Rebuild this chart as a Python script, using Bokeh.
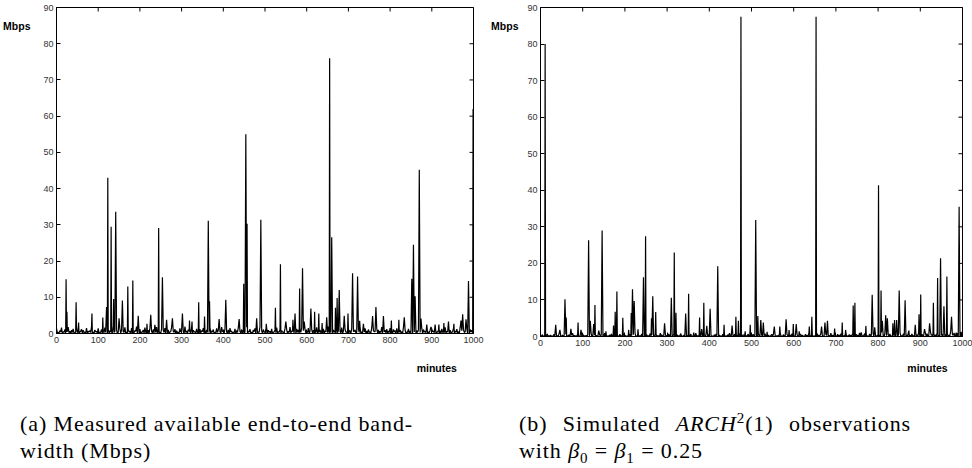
import math
from bokeh.plotting import figure
from bokeh.models import Range1d, FixedTicker, LinearAxis, Div
from bokeh.layouts import row, column
from bokeh.embed import file_html
from bokeh.resources import INLINE

# ---------------- data ----------------
minute_ticks = [0, 100, 200, 300, 400, 500, 600, 700, 800, 900, 1000]
mbps_ticks = [0, 10, 20, 30, 40, 50, 60, 70, 80, 90]

# floor level, panel (a): values at minutes 0, 4, 8, ...
a_floor = [
    1.4, 0.3, 0.8, 1.6, 0.5, 1.1, 0.4, 1.8, 0.6, 0.9,
    1.3, 0.2, 1.7, 0.7, 0.4, 1.2, 0.9, 0.3, 1.5, 0.6,
    0.8, 1.9, 0.4, 1.0, 0.5, 1.4, 0.2, 1.1, 0.7, 1.6,
    0.3, 1.2, 0.8, 0.4, 2.1, 0.6, 1.0, 0.3, 1.3, 0.9,
    0.5, 1.7, 0.4, 1.1, 0.6, 1.5, 0.3, 0.8, 1.9, 0.5,
    1.2, 0.4, 1.0, 1.6, 0.3, 0.9, 1.4, 0.6, 1.1, 0.4,
    1.8, 0.7, 0.3, 1.3, 0.9, 1.5, 0.5, 1.0, 0.4, 1.7,
    0.6, 1.2, 0.8, 0.3, 1.4, 1.0, 0.5, 1.9, 0.7, 1.1,
    0.4, 1.6, 0.9, 0.5, 1.3, 0.3, 1.2, 0.8, 1.5, 0.6,
    1.0, 0.4, 1.7, 0.7, 1.1, 0.3, 1.4, 0.9, 0.5, 1.8,
    0.6, 1.2, 0.4, 1.0, 1.5, 0.7, 0.3, 1.3, 0.8, 1.6,
    0.5, 1.1, 0.9, 0.4, 1.7, 0.6, 1.2, 0.3, 1.0, 1.4,
    0.8, 0.5, 1.9, 0.7, 1.1, 0.4, 1.5, 0.9, 0.6, 1.3,
    0.3, 1.0, 1.6, 0.5, 1.2, 0.8, 0.4, 1.4, 1.1, 0.6,
    1.8, 0.7, 0.9, 0.3, 1.3, 1.0, 0.5, 1.6, 0.8, 1.2,
    0.4, 1.5, 0.6, 1.1, 0.9, 0.3, 1.7, 0.7, 1.0, 0.5,
    1.3, 0.8, 0.4, 1.9, 0.6, 1.2, 1.0, 0.3, 1.4, 0.9,
    0.5, 1.6, 0.7, 1.1, 0.4, 1.3, 0.8, 1.5, 0.6, 1.0,
    0.3, 1.2, 1.7, 0.5, 0.9, 1.4, 0.7, 1.1, 0.4, 1.6,
    0.8, 0.5, 1.3, 1.0, 0.6, 1.8, 0.4, 0.9, 1.2, 0.7,
    1.5, 0.3, 1.1, 0.8, 1.4, 0.6, 1.0, 0.5, 1.7, 0.9,
    0.4, 1.3, 0.7, 1.2, 0.5, 1.6, 0.8, 1.0, 0.3, 1.4,
    1.1, 0.6, 1.9, 0.4, 0.9, 1.2, 0.7, 1.5, 0.5, 1.0,
    0.8, 1.3, 0.4, 1.7, 0.6, 1.1, 0.9, 0.3, 1.4, 0.7,
    1.2, 0.5, 1.6, 0.8, 1.0, 0.4, 1.3, 0.6, 1.1, 0.9,
]
# floor level, panel (a): values at minutes 2, 6, 10, ...
a_floor_mid = [
    0.2, 0.1, 0.4, 0.0, 0.3, 0.1, 0.5, 0.2, 0.0, 0.3,
    0.1, 0.4, 0.2, 0.0, 0.6, 0.1, 0.3, 0.2, 0.0, 0.4,
    0.3, 0.1, 0.0, 0.5, 0.2, 0.1, 0.4, 0.0, 0.2, 0.3,
    0.1, 0.0, 0.4, 0.2, 0.3, 0.1, 0.0, 0.5, 0.2, 0.1,
    0.3, 0.0, 0.2, 0.4, 0.1, 0.0, 0.3, 0.6, 0.1, 0.2,
    0.0, 0.4, 0.1, 0.3, 0.2, 0.0, 0.5, 0.1, 0.2, 0.3,
    0.1, 0.2, 0.0, 0.4, 0.3, 0.1, 0.2, 0.0, 0.5, 0.1,
    0.3, 0.0, 0.2, 0.1, 0.4, 0.2, 0.0, 0.3, 0.1, 0.6,
    0.2, 0.0, 0.4, 0.1, 0.3, 0.0, 0.2, 0.5, 0.1, 0.0,
    0.3, 0.2, 0.1, 0.4, 0.0, 0.2, 0.3, 0.1, 0.0, 0.5,
    0.1, 0.3, 0.2, 0.0, 0.4, 0.1, 0.2, 0.0, 0.3, 0.6,
    0.2, 0.1, 0.0, 0.3, 0.1, 0.4, 0.2, 0.0, 0.5, 0.1,
    0.0, 0.3, 0.2, 0.1, 0.4, 0.0, 0.2, 0.3, 0.1, 0.0,
    0.5, 0.2, 0.1, 0.3, 0.0, 0.4, 0.1, 0.2, 0.0, 0.3,
    0.1, 0.6, 0.2, 0.0, 0.3, 0.1, 0.4, 0.0, 0.2, 0.1,
    0.3, 0.0, 0.5, 0.2, 0.1, 0.4, 0.0, 0.3, 0.2, 0.1,
    0.0, 0.4, 0.2, 0.1, 0.3, 0.0, 0.5, 0.1, 0.2, 0.3,
    0.2, 0.0, 0.1, 0.4, 0.2, 0.3, 0.0, 0.1, 0.6, 0.2,
    0.1, 0.3, 0.0, 0.2, 0.4, 0.1, 0.0, 0.3, 0.2, 0.0,
    0.5, 0.1, 0.2, 0.0, 0.3, 0.1, 0.4, 0.2, 0.0, 0.3,
    0.1, 0.2, 0.4, 0.0, 0.1, 0.3, 0.2, 0.0, 0.5, 0.1,
    0.3, 0.0, 0.2, 0.1, 0.4, 0.0, 0.3, 0.2, 0.1, 0.0,
    0.4, 0.2, 0.0, 0.3, 0.1, 0.5, 0.2, 0.0, 0.3, 0.1,
    0.0, 0.3, 0.2, 0.1, 0.4, 0.0, 0.2, 0.6, 0.1, 0.3,
    0.2, 0.0, 0.4, 0.1, 0.3, 0.2, 0.0, 0.1, 0.4, 0.2,
]

a_spike_minutes = [
    23, 25, 47, 53, 85, 111, 120, 123, 131, 137, 142, 150, 158, 171, 183,
    196, 217, 226, 236, 245, 254, 264, 278, 302, 319, 325, 341, 355, 364,
    367, 390, 406, 438, 449, 454, 457, 480, 490, 503, 525, 537, 550, 567,
    572, 583, 590, 594, 610, 619, 629, 637, 648, 655, 660, 669, 673, 678,
    690, 699, 710, 722, 727, 736, 758, 766, 784, 803, 821, 834, 852, 856,
    860, 870, 874, 888, 898, 908, 917, 929, 940, 953, 970, 974, 982, 988, 999,
]
a_spike_mbps = [
    15.0, 6.0, 8.6, 3.0, 5.5, 4.4, 7.3, 43.0, 29.5, 9.5, 33.6, 4.2, 9.1, 13.0, 14.6,
    4.9, 2.7, 5.2, 2.4, 29.1, 15.5, 3.8, 4.2, 5.5, 3.6, 3.3, 8.6, 4.7, 31.1,
    8.9, 4.0, 9.3, 4.0, 13.7, 55.0, 30.3, 4.2, 31.4, 2.7, 7.1, 19.1, 3.3, 3.8,
    5.5, 12.4, 18.0, 3.3, 6.9, 6.0, 5.5, 2.9, 4.5, 76.0, 26.6, 7.1, 9.8, 12.0,
    4.9, 5.5, 16.6, 15.7, 3.5, 2.7, 4.8, 7.3, 4.8, 3.6, 3.8, 4.5, 15.1, 24.5,
    10.3, 45.2, 4.1, 2.5, 1.8, 2.5, 2.5, 2.9, 3.3, 2.7, 3.6, 5.3, 3.9, 14.5, 62.0,
]

# floor level, panel (b): values at minutes 0, 4, 8, ...
b_floor = [
    0.2, 0.5, 0.1, 0.3, 0.7, 0.2, 0.4, 0.1, 0.6, 0.3,
    0.2, 0.8, 0.1, 0.4, 0.3, 0.6, 0.2, 0.5, 0.1, 0.9,
    0.3, 0.2, 0.6, 0.1, 0.4, 0.7, 0.2, 0.3, 0.5, 0.1,
    0.8, 0.2, 0.4, 0.3, 0.1, 0.6, 0.5, 0.2, 0.9, 0.3,
    0.1, 0.4, 0.7, 0.2, 0.5, 0.3, 0.1, 0.6, 0.2, 0.8,
    0.4, 0.1, 0.3, 0.6, 0.2, 0.5, 0.9, 0.1, 0.4, 0.2,
    0.7, 0.3, 0.1, 0.5, 0.2, 0.8, 0.4, 0.1, 0.6, 0.3,
    0.2, 0.9, 0.4, 0.1, 0.5, 0.3, 0.7, 0.2, 0.1, 0.6,
    0.3, 0.5, 0.2, 0.8, 0.1, 0.4, 0.6, 0.2, 0.3, 0.7,
    0.1, 0.4, 0.9, 0.2, 0.5, 0.3, 0.1, 0.6, 0.4, 0.2,
    0.8, 0.3, 0.1, 0.5, 0.7, 0.2, 0.4, 0.1, 0.6, 0.3,
    0.2, 0.5, 0.9, 0.1, 0.3, 0.6, 0.2, 0.4, 0.8, 0.1,
    0.5, 0.3, 0.2, 0.7, 0.1, 0.4, 0.6, 0.3, 0.2, 0.9,
    0.1, 0.5, 0.3, 0.8, 0.2, 0.4, 0.1, 0.6, 0.7, 0.3,
    0.2, 0.4, 1.0, 0.1, 0.5, 0.3, 0.6, 0.2, 0.4, 0.8,
    0.1, 0.3, 0.5, 0.2, 0.7, 0.4, 0.1, 0.6, 0.3, 0.9,
    0.2, 0.5, 0.1, 0.4, 0.8, 0.3, 0.6, 0.2, 0.1, 0.7,
    0.4, 0.2, 0.9, 0.3, 0.5, 0.1, 0.6, 0.4, 0.8, 0.2,
    0.3, 0.7, 0.1, 0.5, 0.4, 0.9, 0.2, 0.6, 0.3, 1.0,
    0.5, 0.2, 0.8, 0.4, 0.1, 0.7, 0.3, 0.9, 0.5, 0.2,
    0.6, 0.4, 1.1, 0.3, 0.8, 0.2, 0.5, 0.7, 0.1, 0.9,
    0.4, 0.6, 0.3, 1.0, 0.2, 0.8, 0.5, 0.4, 1.2, 0.3,
    0.7, 0.2, 0.9, 0.5, 1.1, 0.4, 0.6, 0.3, 1.0, 0.8,
    0.2, 1.3, 0.5, 0.7, 0.4, 1.1, 0.3, 0.9, 0.6, 1.2,
    0.5, 0.8, 0.3, 1.4, 0.6, 1.0, 0.4, 0.9, 0.7, 0.3,
]
# floor level, panel (b): values at minutes 2, 6, 10, ...
b_floor_mid = [
    0.0, 0.1, 0.0, 0.2, 0.0, 0.1, 0.0, 0.0, 0.2, 0.1,
    0.0, 0.1, 0.0, 0.0, 0.2, 0.0, 0.1, 0.0, 0.3, 0.0,
    0.1, 0.0, 0.0, 0.2, 0.0, 0.1, 0.0, 0.1, 0.0, 0.2,
    0.0, 0.0, 0.1, 0.0, 0.2, 0.0, 0.1, 0.0, 0.0, 0.1,
    0.2, 0.0, 0.0, 0.1, 0.0, 0.3, 0.0, 0.1, 0.0, 0.0,
    0.1, 0.0, 0.2, 0.0, 0.1, 0.0, 0.0, 0.2, 0.0, 0.1,
    0.0, 0.1, 0.0, 0.0, 0.2, 0.0, 0.1, 0.0, 0.3, 0.0,
    0.0, 0.2, 0.0, 0.1, 0.0, 0.0, 0.1, 0.0, 0.2, 0.0,
    0.1, 0.0, 0.0, 0.2, 0.0, 0.1, 0.0, 0.1, 0.0, 0.0,
    0.2, 0.0, 0.1, 0.0, 0.0, 0.3, 0.0, 0.1, 0.0, 0.2,
    0.0, 0.1, 0.0, 0.0, 0.2, 0.0, 0.1, 0.0, 0.1, 0.0,
    0.0, 0.2, 0.0, 0.1, 0.0, 0.0, 0.2, 0.0, 0.1, 0.0,
    0.3, 0.0, 0.1, 0.0, 0.0, 0.2, 0.0, 0.1, 0.0, 0.1,
    0.0, 0.0, 0.2, 0.0, 0.1, 0.0, 0.3, 0.0, 0.0, 0.1,
    0.0, 0.2, 0.0, 0.1, 0.0, 0.0, 0.2, 0.0, 0.1, 0.0,
    0.1, 0.0, 0.0, 0.3, 0.0, 0.1, 0.0, 0.2, 0.0, 0.0,
    0.2, 0.0, 0.1, 0.0, 0.0, 0.2, 0.0, 0.1, 0.0, 0.3,
    0.0, 0.1, 0.0, 0.2, 0.0, 0.0, 0.1, 0.0, 0.2, 0.0,
    0.1, 0.0, 0.3, 0.0, 0.1, 0.0, 0.0, 0.2, 0.0, 0.1,
    0.0, 0.2, 0.0, 0.1, 0.0, 0.3, 0.0, 0.0, 0.2, 0.0,
    0.1, 0.0, 0.2, 0.0, 0.3, 0.0, 0.1, 0.0, 0.0, 0.2,
    0.0, 0.3, 0.0, 0.1, 0.0, 0.2, 0.0, 0.1, 0.0, 0.0,
    0.2, 0.0, 0.1, 0.0, 0.3, 0.0, 0.2, 0.0, 0.1, 0.0,
    0.0, 0.3, 0.0, 0.2, 0.0, 0.1, 0.0, 0.3, 0.0, 0.2,
    0.1, 0.0, 0.2, 0.0, 0.3, 0.0, 0.1, 0.0, 0.2, 0.0,
]

b_spike_minutes = [
    11, 36, 46, 58, 61, 72, 89, 96, 114, 118, 126, 129, 138, 146, 155,
    173, 177, 181, 195, 209, 215, 218, 222, 231, 244, 249, 263, 266, 273,
    294, 310, 317, 321, 344, 351, 363, 377, 382, 387, 394, 402, 420, 435,
    454, 463, 469, 475, 485, 497, 510, 515, 522, 528, 537, 554, 567, 582,
    589, 599, 606, 613, 637, 643, 653, 666, 674, 680, 697, 715, 723, 741,
    745, 760, 771, 786, 792, 801, 807, 810, 818, 822, 835, 839, 844, 850,
    864, 873, 888, 897, 901, 910, 922, 931, 941, 948, 956, 963, 974, 985,
    992, 997,
]
b_spike_mbps = [
    80.0, 3.2, 1.8, 10.2, 5.2, 2.1, 3.8, 1.8, 26.3, 4.3, 3.4, 8.6, 1.6, 29.0, 1.4,
    3.0, 6.8, 12.3, 5.1, 1.8, 6.4, 12.9, 9.7, 2.0, 16.2, 27.4, 5.0, 11.0, 6.7,
    3.6, 10.6, 23.0, 6.5, 6.3, 11.7, 1.1, 5.2, 2.0, 9.2, 2.9, 7.6, 19.2, 3.2,
    3.0, 5.4, 4.3, 87.5, 1.4, 3.2, 31.9, 5.6, 4.5, 3.8, 1.3, 2.7, 2.7, 4.7,
    1.8, 3.4, 3.4, 1.4, 2.7, 5.4, 87.5, 2.7, 3.8, 4.3, 2.2, 3.8, 1.8, 8.5,
    9.2, 1.1, 2.9, 11.4, 2.5, 41.4, 12.6, 4.3, 5.8, 5.0, 3.6, 4.5, 4.5, 12.6,
    9.9, 1.6, 3.2, 6.1, 11.5, 2.0, 3.6, 9.2, 16.0, 21.4, 8.3, 16.4, 5.4, 1.1,
    35.5, 1.3,
]

caption_a = ["(a) Measured available end-to-end band-", "width (Mbps)"]
caption_b_html = [
    "(b) Simulated <i>ARCH</i><sup style='font-size:15px;line-height:0'>2</sup>(1) observations",
    "with <i>&beta;</i><sub style='font-size:15px;line-height:0'>0</sub> = "
    "<i>&beta;</i><sub style='font-size:15px;line-height:0'>1</sub> = 0.25",
]


def merged_series(floor, floor_mid, spike_minutes, spike_vals):
    pts = {4 * i: v for i, v in enumerate(floor)}
    for i, v in enumerate(floor_mid):
        pts[4 * i + 2] = v
    for m, v in zip(spike_minutes, spike_vals):
        pts[m] = v
    xs = sorted(pts)
    return xs, [pts[x] for x in xs]


TICK_FONT = "Liberation Sans"


def tick_axis(ticks):
    ax = LinearAxis(ticker=FixedTicker(ticks=ticks))
    ax.major_tick_in = 4
    ax.major_tick_out = 0
    ax.minor_tick_in = 0
    ax.minor_tick_out = 0
    ax.axis_line_color = "black"
    ax.major_tick_line_color = "black"
    ax.major_label_text_font = TICK_FONT
    ax.major_label_text_color = "#333333"
    ax.major_label_text_font_size = "9px"
    ax.major_label_standoff = 3
    return ax


def name_axis(tick, text, standoff):
    ax = LinearAxis(ticker=FixedTicker(ticks=[tick]),
                    major_label_overrides={tick: text})
    ax.axis_line_color = None
    ax.major_tick_line_color = None
    ax.minor_tick_line_color = None
    ax.major_label_text_font = TICK_FONT
    ax.major_label_text_font_size = "10.5px"
    ax.major_label_text_font_style = "bold"
    ax.major_label_text_color = "black"
    ax.major_label_standoff = standoff
    return ax


def make_panel(floor, floor_mid, smin, sval, width, height, left, right, top,
               mbps_standoff, minutes_at, minutes_standoff):
    p = figure(
        width=width, height=height,
        x_range=Range1d(0, 1000), y_range=Range1d(0, 90),
        output_backend="svg", toolbar_location=None,
        min_border_left=left, min_border_right=right,
        min_border_top=top, min_border_bottom=40,
        x_axis_location=None, y_axis_location=None,
    )
    p.grid.visible = False
    p.outline_line_color = "black"
    p.outline_line_width = 1
    p.background_fill_color = "white"
    p.border_fill_color = "white"

    p.add_layout(tick_axis(minute_ticks), "below")
    p.add_layout(name_axis(minutes_at, "minutes", minutes_standoff), "below")
    p.add_layout(tick_axis(mbps_ticks), "left")
    p.add_layout(name_axis(85, "Mbps", mbps_standoff), "left")

    # mirrored inward ticks on the top and right edges of the frame
    p.scatter(minute_ticks, [p.y_range.end] * len(minute_ticks), marker="dash",
              size=8, angle=math.pi / 2, line_color="black", line_width=1)
    p.scatter([p.x_range.end] * len(mbps_ticks), mbps_ticks, marker="dash",
              size=8, line_color="black", line_width=1)

    xs, ys = merged_series(floor, floor_mid, smin, sval)
    p.line(xs, ys, line_color="black", line_width=1.2)
    return p


pa = make_panel(a_floor, a_floor_mid, a_spike_minutes, a_spike_mbps,
                488, 376, 53, 15, 5, 4, 912, 10)
pb = make_panel(b_floor, b_floor_mid, b_spike_minutes, b_spike_mbps,
                484, 379, 52, 10, 7, 0, 917, 7)

cap_style = ("font-family:'Liberation Serif',serif;font-size:22px;line-height:27px;"
             "color:#000;letter-spacing:0.9px;")


def caption_html(lines, pad_left):
    first = (f"<div style=\"width:392px;text-align:justify;text-align-last:justify;"
             f"white-space:nowrap;\">{lines[0]}</div>")
    second = f"<div>{lines[1]}</div>"
    return (f"<div style=\"{cap_style}padding-left:{pad_left}px;padding-top:31px;\">"
            f"{first}{second}</div>")


div_a = Div(text=caption_html(caption_a, 20), width=488, height=89, margin=0)
div_b = Div(text=caption_html(caption_b_html, 31), width=484, height=89, margin=0)

layout = column(row(pa, pb), row(div_a, div_b))

open("out.html", "w").write(file_html(layout, INLINE))
